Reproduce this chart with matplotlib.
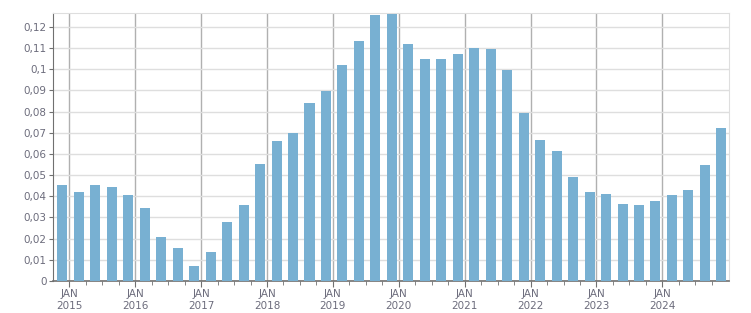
import numpy as np
import matplotlib
matplotlib.use("Agg")
import matplotlib.pyplot as plt
from matplotlib.ticker import FuncFormatter, FixedLocator

# quarterly values, 2015 Q1 .. 2025 Q1
quarters = [f"{y} Q{q}" for y in range(2015, 2026) for q in range(1, 5)][:41]
values = [
    0.0453, 0.0420, 0.0453, 0.0444,
    0.0406, 0.0345, 0.0208, 0.0156,
    0.0071, 0.0137, 0.0279, 0.0359,
    0.0553, 0.0661, 0.0699, 0.0841,
    0.0897, 0.1020, 0.1134, 0.1256,
    0.1261, 0.1119, 0.1049, 0.1049,
    0.1072, 0.1101, 0.1096, 0.0997,
    0.0794, 0.0666, 0.0614, 0.0491,
    0.0420, 0.0411, 0.0364, 0.0359,
    0.0378, 0.0406, 0.0430, 0.0548,
    0.0723,
]
years = list(range(2015, 2025))
year_labels = [f"JAN\n{y}" for y in years]

bar_color = "#78b0d2"
text_color = "#6c6c7c"


def fmt_comma(v, pos):
    s = f"{v:.2f}".rstrip("0").rstrip(".")
    return s.replace(".", ",")


def main():
    fig = plt.figure(figsize=(7.51, 3.13), dpi=100)
    ax = fig.add_axes([0.0706, 0.1022, 0.8997, 0.8563])

    x = 2015 + np.arange(len(values)) / 4.0 - 0.105
    ax.bar(x, values, width=0.152, color=bar_color, zorder=3)

    ax.set_xlim(2014.753, 2025.006)
    ax.set_ylim(0, 0.1266)

    ax.yaxis.set_major_locator(FixedLocator(np.arange(0, 0.125, 0.01)))
    ax.yaxis.set_major_formatter(FuncFormatter(fmt_comma))
    ax.set_xticks(years)
    ax.set_xticklabels(year_labels)
    ax.xaxis.set_minor_locator(FixedLocator(
        [y + q / 4 for y in range(2014, 2025) for q in (1, 2, 3)]))

    ax.grid(axis="y", color="#dedede", lw=1, zorder=0)
    ax.grid(axis="x", which="major", color="#b0b0b0", lw=1, zorder=1)

    for side in ("top", "right"):
        ax.spines[side].set_color("#dedede")
    for side in ("left", "bottom"):
        ax.spines[side].set_color("#707070")
    ax.spines["bottom"].set_linewidth(1.2)

    ax.tick_params(axis="y", length=3, color="#707070", labelsize=7.5,
                   labelcolor=text_color, pad=1.5)
    ax.tick_params(axis="x", which="major", length=4, color="#707070",
                   labelsize=7.5, labelcolor=text_color, pad=2)
    ax.tick_params(axis="x", which="minor", length=3, color="#707070")
    for lab in ax.get_xticklabels():
        lab.set_linespacing(1.25)

    plt.savefig("out.png", dpi=100)
    plt.close()


if __name__ == "__main__":
    main()
